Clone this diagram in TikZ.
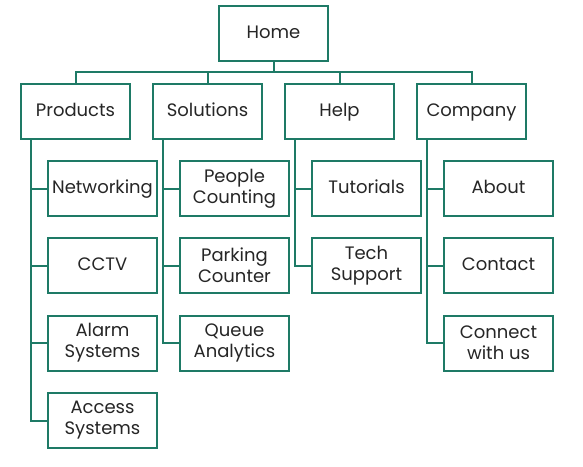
\documentclass[tikz,border=0pt]{standalone}
\usepackage{fontspec}
\setmainfont{Poppins}
\begin{document}
\begin{tikzpicture}[x=1pt,y=-1pt,
  box/.style={draw=teal0,line width=2pt,fill=white,minimum width=109pt,minimum height=55pt,
    inner sep=0pt,align=center,font=\fontsize{18}{21}\selectfont,text=black!85},
  one/.style={box,text height=10pt,text depth=0pt},
  link/.style={draw=teal0,line width=2pt}]
\definecolor{teal0}{RGB}{30,122,102}
\useasboundingbox (0,0) rectangle (583,466);
% top level
\node[one] (home) at (273.5,33.5) {Home};
\node[one] (prod) at (75.5,111) {Products};
\node[one] (sol) at (207.5,111) {Solutions};
\node[one] (help) at (339.5,111) {Help};
\node[one] (comp) at (471.5,111) {Company};
% second level
\node[one] (net) at (102.5,188.5) {Networking};
\node[one] (cctv) at (102.5,265.5) {CCTV};
\node[box] (alarm) at (102.5,343) {Alarm\\Systems};
\node[box] (access) at (102.5,420.5) {Access\\Systems};
\node[box] (people) at (234.5,188.5) {People\\Counting};
\node[box] (park) at (234.5,265.5) {Parking\\Counter};
\node[box] (queue) at (234.5,343) {Queue\\Analytics};
\node[one] (tut) at (366.5,188.5) {Tutorials};
\node[box] (tech) at (366.5,265.5) {Tech\\Support};
\node[one] (about) at (498.5,188.5) {About};
\node[one] (contact) at (498.5,265.5) {Contact};
\node[box] (connect) at (498.5,343) {Connect\\with us};
% bus from Home to the top level
\coordinate (bus) at (0,72);
\draw[link] (home.south) -- (home.south |- bus);
\draw[link] (prod.north) -- (prod.north |- bus) -- (comp.north |- bus) -- (comp.north);
\draw[link] (sol.north) -- (sol.north |- bus);
\draw[link] (help.north) -- (help.north |- bus);
% spines down the left of each column
\foreach \p/\last/\kids in {prod/access/{net,cctv,alarm,access},
                             sol/queue/{people,park,queue},
                             help/tech/{tut,tech},
                             comp/connect/{about,contact,connect}}{
  \coordinate (sp) at ([xshift=11pt]\p.south west);
  \draw[link] (sp) -- (sp |- \last.west) -- (\last.west);
  \foreach \k in \kids { \draw[link] (sp |- \k.west) -- (\k.west); }
}
\end{tikzpicture}
\end{document}
